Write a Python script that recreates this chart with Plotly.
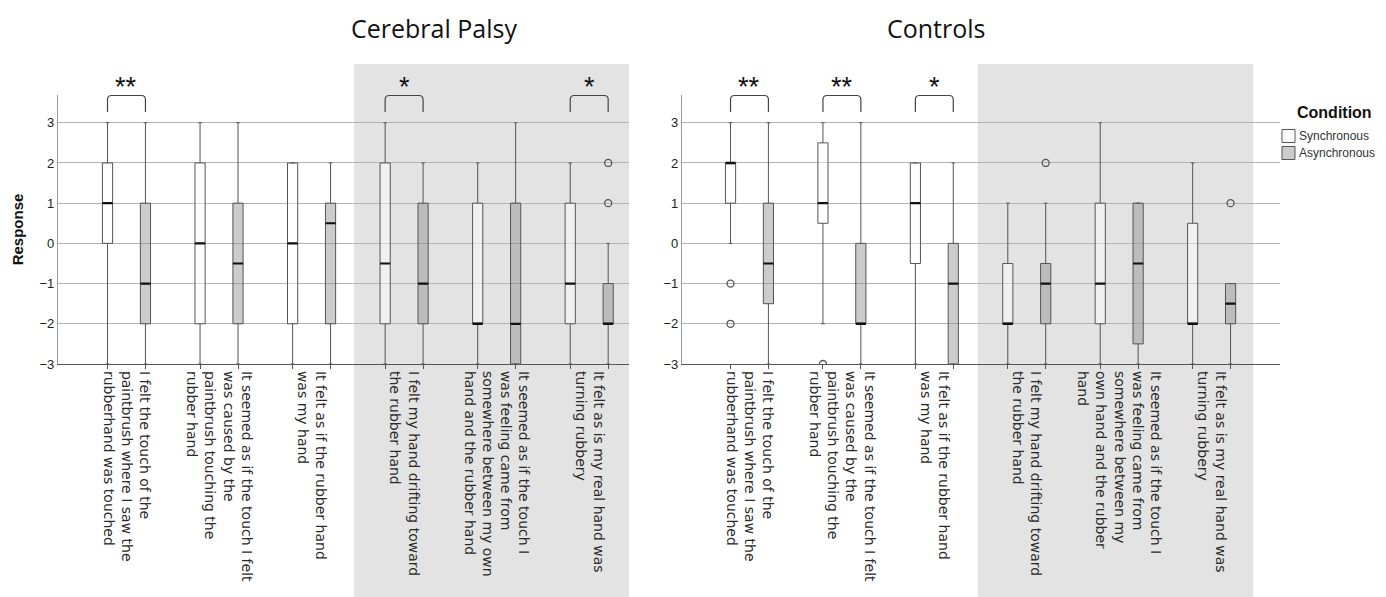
import plotly.graph_objects as go

# ---------------- data ----------------
cp_labels = [
    "I felt the touch of the<br>paintbrush where I saw the<br>rubberhand was touched",
    "It seemed as if the touch I felt<br>was caused by the<br>paintbrush touching the<br>rubber hand",
    "It felt as if the rubber hand<br>was my hand",
    "I felt my hand drifting toward<br>the rubber hand",
    "It seemed as if the touch I<br>was feeling came from<br>somewhere between my own<br>hand and the rubber hand",
    "It felt as is my real hand was<br>turning rubbery",
]
ctrl_labels = [
    "I felt the touch of the<br>paintbrush where I saw the<br>rubberhand was touched",
    "It seemed as if the touch I felt<br>was caused by the<br>paintbrush touching the<br>rubber hand",
    "It felt as if the rubber hand<br>was my hand",
    "I felt my hand drifting toward<br>the rubber hand",
    "It seemed as if the touch I<br>was feeling came from<br>somewhere between my<br>own hand and the rubber<br>hand",
    "It felt as is my real hand was<br>turning rubbery",
]

# Cerebral Palsy - Synchronous
cp_sync_low = [-3, -3, -3, -3, -3, -3]
cp_sync_q1 = [0, -2, -2, -2, -2, -2]
cp_sync_med = [1, 0, 0, -0.5, -2, -1]
cp_sync_q3 = [2, 2, 2, 2, 1, 1]
cp_sync_high = [3, 3, 2, 3, 2, 2]
cp_sync_out_cat = []
cp_sync_out_val = []
# Cerebral Palsy - Asynchronous
cp_async_low = [-3, -3, -3, -3, -3, -3]
cp_async_q1 = [-2, -2, -2, -2, -3, -2]
cp_async_med = [-1, -0.5, 0.5, -1, -2, -2]
cp_async_q3 = [1, 1, 1, 1, 1, -1]
cp_async_high = [3, 3, 2, 2, 3, 0]
cp_async_out_cat = [5, 5]
cp_async_out_val = [1, 2]

# Controls - Synchronous
ct_sync_low = [0, -2, -3, -3, -3, -3]
ct_sync_q1 = [1, 0.5, -0.5, -2, -2, -2]
ct_sync_med = [2, 1, 1, -2, -1, -2]
ct_sync_q3 = [2, 2.5, 2, -0.5, 1, 0.5]
ct_sync_high = [3, 3, 2, 1, 3, 2]
ct_sync_out_cat = [0, 0, 1]
ct_sync_out_val = [-1, -2, -3]
# Controls - Asynchronous
ct_async_low = [-3, -3, -3, -3, -3, -3]
ct_async_q1 = [-1.5, -2, -3, -2, -2.5, -2]
ct_async_med = [-0.5, -2, -1, -1, -0.5, -1.5]
ct_async_q3 = [1, 0, 0, -0.5, 1, -1]
ct_async_high = [3, 3, 2, 1, 1, -1]
ct_async_out_cat = [3, 5]
ct_async_out_val = [2, 1]

cp_sig_cat = [0, 3, 5]
cp_sig_text = ["**", "*", "*"]
ct_sig_cat = [0, 1, 2]
ct_sig_text = ["**", "**", "*"]

y_ticks = [-3, -2, -1, 0, 1, 2, 3]
legend_names = ["Synchronous", "Asynchronous"]

# ---------------- style ----------------
PAGE_OFF = 8                      # default body margin of the page
W, H = 1386 - PAGE_OFF, 597 - PAGE_OFF
OFF = 0.205
BOXW = 0.11
SYNC_FILL = "rgba(255,255,255,0.45)"
ASYNC_FILL = "rgba(136,136,136,0.43)"
EDGE = "#555555"
LABEL_FONT = dict(family="DejaVu Sans", size=14, color="#2a2a2a")


def px_x(p):
    return (p - PAGE_OFF) / W


def px_y(p):
    return 1 - (p - PAGE_OFF) / H


fig = go.Figure()


def add_panel(xa, ya, low_s, q1_s, med_s, q3_s, hi_s, low_a, q1_a, med_a, q3_a, hi_a,
              out_s_cat, out_s_val, out_a_cat, out_a_val):
    n = len(med_s)
    xs = [i - OFF for i in range(n)]
    xa_ = [i + OFF for i in range(n)]
    for xpos, lo, q1, md, q3, hi, fill, name in [
        (xs, low_s, q1_s, med_s, q3_s, hi_s, SYNC_FILL, legend_names[0]),
        (xa_, low_a, q1_a, med_a, q3_a, hi_a, ASYNC_FILL, legend_names[1]),
    ]:
        fig.add_trace(go.Box(
            x=xpos, q1=q1, median=md, q3=q3, lowerfence=lo, upperfence=hi,
            width=BOXW, fillcolor=fill, line=dict(color=EDGE, width=1),
            whiskerwidth=0.35, boxpoints=False, name=name, legendgroup=name,
            showlegend=False, xaxis=xa, yaxis=ya, hoverinfo="skip"))
        # thick black median line
        fig.add_trace(go.Box(
            x=xpos, q1=md, median=md, q3=md, lowerfence=md, upperfence=md,
            width=BOXW, fillcolor="rgba(0,0,0,0)", line=dict(color="#111111", width=2.2),
            whiskerwidth=0, boxpoints=False, showlegend=False, xaxis=xa, yaxis=ya,
            hoverinfo="skip"))
    for cats, vals, off in [(out_s_cat, out_s_val, -OFF), (out_a_cat, out_a_val, OFF)]:
        if cats:
            fig.add_trace(go.Scatter(
                x=[c + off for c in cats], y=vals, mode="markers",
                marker=dict(symbol="circle-open", size=7, color=EDGE, line=dict(width=1.3)),
                showlegend=False, xaxis=xa, yaxis=ya, hoverinfo="skip"))


add_panel("x", "y", cp_sync_low, cp_sync_q1, cp_sync_med, cp_sync_q3, cp_sync_high,
          cp_async_low, cp_async_q1, cp_async_med, cp_async_q3, cp_async_high,
          cp_sync_out_cat, cp_sync_out_val, cp_async_out_cat, cp_async_out_val)
add_panel("x2", "y2", ct_sync_low, ct_sync_q1, ct_sync_med, ct_sync_q3, ct_sync_high,
          ct_async_low, ct_async_q1, ct_async_med, ct_async_q3, ct_async_high,
          ct_sync_out_cat, ct_sync_out_val, ct_async_out_cat, ct_async_out_val)

shapes = []
annotations = []
# shaded regions
shapes.append(dict(type="rect", xref="x", yref="paper", x0=2.46, x1=5.43, y0=0, y1=px_y(64),
                   fillcolor="#e3e3e3", line=dict(width=0), layer="below"))
shapes.append(dict(type="rect", xref="x2", yref="paper", x0=2.47, x1=5.45, y0=0, y1=px_y(64),
                   fillcolor="#e3e3e3", line=dict(width=0), layer="below"))

# significance brackets
yt, yb = px_y(95.5), px_y(112)
ry, rx = 4 / H, 0.045
for xref, cats, texts in [("x", cp_sig_cat, cp_sig_text), ("x2", ct_sig_cat, ct_sig_text)]:
    for c, t in zip(cats, texts):
        x1, x2 = c - OFF, c + OFF
        path = (f"M {x1},{yb} L {x1},{yt - ry} Q {x1},{yt} {x1 + rx},{yt} "
                f"L {x2 - rx},{yt} Q {x2},{yt} {x2},{yt - ry} L {x2},{yb}")
        shapes.append(dict(type="path", xref=xref, yref="paper", path=path,
                           line=dict(color="#444444", width=1.2)))
        annotations.append(dict(x=c, xref=xref, y=px_y(87), yref="paper", text=t,
                                showarrow=False, yanchor="middle", xanchor="center",
                                font=dict(family="Liberation Sans", size=27, color="#111111")))

# panel titles
annotations.append(dict(x=px_x(349), y=px_y(28), xref="paper", yref="paper",
                        text="Cerebral Palsy", showarrow=False, yanchor="middle",
                        font=dict(family="Open Sans", size=25, color="#111111")))
annotations.append(dict(x=px_x(988), y=px_y(28), xref="paper", yref="paper",
                        text="Controls", showarrow=False, yanchor="middle",
                        font=dict(family="Open Sans", size=25, color="#111111")))

# legend (drawn by hand to match the compact layout of the original)
annotations.append(dict(x=px_x(1334), y=px_y(112), xref="paper", yref="paper",
                        text="<b>Condition</b>", showarrow=False, yanchor="middle",
                        xanchor="center",
                        font=dict(family="Liberation Sans", size=16, color="#111111")))
for name, fill, yc in [(legend_names[0], "#ffffff", 136), (legend_names[1], "#cccccc", 153)]:
    shapes.append(dict(type="rect", xref="paper", yref="paper",
                       x0=px_x(1282), x1=px_x(1295), y0=px_y(yc + 6.5), y1=px_y(yc - 6.5),
                       fillcolor=fill, line=dict(color=EDGE, width=1)))
    annotations.append(dict(x=px_x(1297), y=px_y(yc), xref="paper", yref="paper",
                            text=name, showarrow=False, yanchor="middle", xanchor="left",
                            font=dict(family="Liberation Sans", size=12, color="#333333")))

ydom = [px_y(364), px_y(95)]
common_x = dict(tickmode="array", tickvals=list(range(6)), tickangle=90, ticks="",
                showline=True, linecolor="#555555", linewidth=1.2, showgrid=False,
                zeroline=False, tickfont=LABEL_FONT, automargin=False,
                ticklabelstandoff=3,
                minor=dict(tickmode="array",
                           tickvals=[i + s * OFF for i in range(6) for s in (-1, 1)],
                           ticks="outside", ticklen=4, tickcolor="#555555"))
common_y = dict(range=[-3, 3.69], tickmode="array", tickvals=y_ticks, ticks="",
                showgrid=True, gridcolor="#b3b3b3", gridwidth=1, showline=True,
                linecolor="#9a9a9a", linewidth=1.2, zeroline=False, domain=ydom,
                tickfont=dict(family="Liberation Sans", size=13, color="#222222"),
                automargin=False)

fig.update_layout(
    width=W, height=H, margin=dict(l=0, r=0, t=0, b=0),
    paper_bgcolor="white", plot_bgcolor="rgba(0,0,0,0)",
    xaxis=dict(common_x, domain=[px_x(58), px_x(629)], range=[-0.74, 5.43],
               ticktext=cp_labels, anchor="y"),
    xaxis2=dict(common_x, domain=[px_x(682), px_x(1280)], range=[-0.73, 5.74],
                ticktext=ctrl_labels, anchor="y2"),
    yaxis=dict(common_y, anchor="x",
               title=dict(text="<b>Response</b>", standoff=12,
                          font=dict(family="Liberation Sans", size=15, color="#111111"))),
    yaxis2=dict(common_y, anchor="x2"),
    shapes=shapes, annotations=annotations,
    showlegend=False,
)

fig.write_html("out.html")
